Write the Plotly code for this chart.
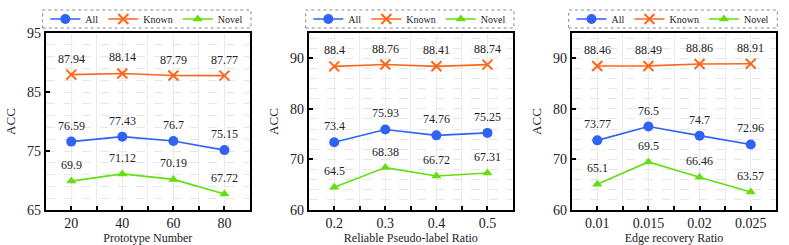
import plotly.graph_objects as go

W, H = 789, 245

# ---- data ----
proto_x = [20, 40, 60, 80]
proto_all = [76.59, 77.43, 76.7, 75.15]
proto_known = [87.94, 88.14, 87.79, 87.77]
proto_novel = [69.9, 71.12, 70.19, 67.72]

ratio_x = [0.2, 0.3, 0.4, 0.5]
ratio_all = [73.4, 75.93, 74.76, 75.25]
ratio_known = [88.4, 88.76, 88.41, 88.74]
ratio_novel = [64.5, 68.38, 66.72, 67.31]

edge_x = [0.01, 0.015, 0.02, 0.025]
edge_labels = ["0.01", "0.015", "0.02", "0.025"]
edge_all = [73.77, 76.5, 74.7, 72.96]
edge_known = [88.46, 88.49, 88.86, 88.91]
edge_novel = [65.1, 69.5, 66.46, 63.57]

series_names = ["All", "Known", "Novel"]
colors = ["#2f62f5", "#ff6619", "#66dd11"]
symbols = ["circle", "x-thin-open", "triangle-up"]
msizes = [10, 10, 9]

panels = [
    dict(x=proto_x, ys=[proto_all, proto_known, proto_novel], title="Prototype Number",
         xrange=[10, 90], dtick=20, yrange=[65, 95], ytick0=65, xlabels=None),
    dict(x=ratio_x, ys=[ratio_all, ratio_known, ratio_novel], title="Reliable Pseudo-label Ratio",
         xrange=[0.15, 0.55], dtick=0.1, yrange=[60, 95], ytick0=60, xlabels=None),
    dict(x=edge_x, ys=[edge_all, edge_known, edge_novel], title="Edge recovery Ratio",
         xrange=[0.0075, 0.0275], dtick=0.005, yrange=[60, 95], ytick0=60, xlabels=edge_labels),
]

px_left = [45.7, 308.7, 571.7]
px_right = [250.0, 513.0, 776.3]
top_px, bot_px = 33.0, 210.0

FONT = "Times New Roman, Liberation Serif, serif"
fig = go.Figure()
layout = dict(
    width=W, height=H, margin=dict(l=0, r=0, t=0, b=0, autoexpand=False),
    paper_bgcolor="white", plot_bgcolor="white",
    font=dict(family=FONT, color="#222"), showlegend=True,
)
shapes = []
annotations = []

for i, p in enumerate(panels):
    n = "" if i == 0 else str(i + 1)
    xa, ya = "x" + n, "y" + n
    lg = "legend" + n
    for k in range(3):
        fig.add_trace(go.Scatter(
            x=p["x"], y=p["ys"][k], mode="lines+markers", name=series_names[k],
            line=dict(color=colors[k], width=1.6),
            marker=dict(symbol=symbols[k], size=msizes[k], color=colors[k],
                        line=dict(color=colors[k], width=2 if k == 1 else 0)),
            xaxis=xa, yaxis=ya, legend=lg,
        ))
        for xv, yv in zip(p["x"], p["ys"][k]):
            annotations.append(dict(
                x=xv, y=yv, xref=xa, yref=ya, text=f"{yv:g}", showarrow=False,
                yshift=16, font=dict(family=FONT, size=12, color="#222"),
            ))
    d0, d1 = px_left[i] / W, px_right[i] / W
    xax = dict(
        domain=[d0, d1], range=p["xrange"], anchor=ya,
        tickmode="linear", tick0=p["x"][0], dtick=p["dtick"],
        ticks="inside", ticklen=4, tickwidth=1.5, tickcolor="black",
        showline=True, linecolor="black", linewidth=2, mirror=True,
        showgrid=True, gridcolor="#ebebeb", gridwidth=1,
        minor=dict(dtick=p["dtick"] / 2, tick0=p["x"][0], ticks="inside", ticklen=4,
                   tickcolor="black", showgrid=True, gridcolor="#ebebeb", gridwidth=1),
        tickfont=dict(family=FONT, size=14, color="#222"),
        ticklabelstandoff=-1,
        title=dict(text=p["title"], font=dict(family=FONT, size=12, color="#222"), standoff=4),
        zeroline=False, fixedrange=True,
    )
    if p["xlabels"] is not None:
        xax.update(tickmode="array", tickvals=p["x"], ticktext=p["xlabels"])
        xax["minor"].update(tickmode="array",
                            tickvals=[(a + b) / 2 for a, b in zip(p["x"][:-1], p["x"][1:])])
        xax["minor"].pop("dtick"); xax["minor"].pop("tick0")
    yax = dict(
        domain=[1 - bot_px / H, 1 - top_px / H], range=p["yrange"], anchor=xa,
        tickmode="linear", tick0=p["ytick0"], dtick=10,
        ticks="inside", ticklen=4, tickwidth=1.5, tickcolor="black",
        showline=True, linecolor="black", linewidth=2, mirror=True,
        showgrid=True, gridcolor="#e6e6e6", griddash="dash", gridwidth=1,
        minor=dict(dtick=2, tick0=p["ytick0"], showgrid=True, gridcolor="#e6e6e6",
                   griddash="dash", gridwidth=1),
        tickfont=dict(family=FONT, size=14, color="#222"),
        title=dict(text="ACC", font=dict(family=FONT, size=13, color="#222"), standoff=8),
        zeroline=False, fixedrange=True,
    )
    layout["xaxis" + n] = xax
    layout["yaxis" + n] = yax
    # legend box (dashed)
    lx0, lx1 = (px_left[i] - 3) / W, (px_right[i] + 1) / W
    shapes.append(dict(type="rect", xref="paper", yref="paper",
                       x0=lx0, x1=lx1, y0=1 - 28 / H, y1=1 - 10 / H,
                       line=dict(color="#888", width=1, dash="dot"), fillcolor="white", layer="below"))
    layout[lg] = dict(
        orientation="h", x=(lx0 + lx1) / 2, xanchor="center", y=1 - 19 / H, yanchor="middle",
        bgcolor="rgba(0,0,0,0)", borderwidth=0,
        font=dict(family=FONT, size=10, color="#222"), itemwidth=30,
        tracegroupgap=0,
    )

layout["shapes"] = shapes
layout["annotations"] = annotations
fig.update_layout(**layout)
fig.write_html("out.html", config={"displayModeBar": False},
               post_script="document.body.style.margin='0px';")
